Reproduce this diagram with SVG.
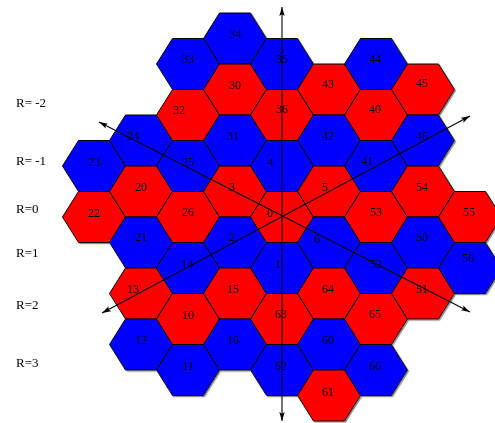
<svg xmlns="http://www.w3.org/2000/svg" xmlns:xlink="http://www.w3.org/1999/xlink" width="495" height="423" viewBox="0 0 495 423">
<style>
.hex{stroke:#000;stroke-width:1}
.r{fill:#FF0000}
.b{fill:#0000FF}
.lbl{font-family:"Liberation Serif","Times New Roman",serif;font-size:12px;fill:#000;text-anchor:middle}
.rl{font-family:"Liberation Serif","Times New Roman",serif;font-size:13px;fill:#000}
.axis{stroke:#000;stroke-width:1.1;fill:none;marker-start:url(#arr);marker-end:url(#arr)}
</style>
<defs>
<polygon id="hex" points="-31.5,0 -15.5,-25.5 15.5,-25.5 31.5,0 15.5,25.5 -15.5,25.5"/>
<marker id="arr" viewBox="0 0 10 6" refX="10" refY="3" markerWidth="9" markerHeight="6" markerUnits="userSpaceOnUse" orient="auto-start-reverse">
<path d="M0,0 L10,3 L0,6 L2,3 z" fill="#000"/>
</marker>
<filter id="sh" x="-5%" y="-5%" width="110%" height="110%">
<feDropShadow dx="1.2" dy="1.2" stdDeviation="0.5" flood-color="#808080" flood-opacity="0.9"/>
</filter>
</defs>
<rect width="495" height="423" fill="#fff"/>
<g id="nodes" filter="url(#sh)">
<!-- column -4 -->
<g id="n23" transform="translate(94,166)"><use xlink:href="#hex" href="#hex" class="hex b"/><text class="lbl" y="-0.5">23</text></g>
<g id="n22" transform="translate(94,217)"><use xlink:href="#hex" href="#hex" class="hex r"/><text class="lbl" y="-0.5">22</text></g>
<!-- column -3 -->
<g id="n24" transform="translate(141,140.5)"><use xlink:href="#hex" href="#hex" class="hex b"/><text class="lbl" x="-8" y="-0.5">24</text></g>
<g id="n20" transform="translate(141,191.5)"><use xlink:href="#hex" href="#hex" class="hex r"/><text class="lbl" y="-0.5">20</text></g>
<g id="n21" transform="translate(141,242.5)"><use xlink:href="#hex" href="#hex" class="hex b"/><text class="lbl" y="-1.5">21</text></g>
<g id="n13" transform="translate(141,293.5)"><use xlink:href="#hex" href="#hex" class="hex r"/><text class="lbl" x="-8" y="-1">13</text></g>
<g id="n12" transform="translate(141,344.5)"><use xlink:href="#hex" href="#hex" class="hex b"/><text class="lbl" y="-0.5">12</text></g>
<!-- column -2 -->
<g id="n33" transform="translate(188,64)"><use xlink:href="#hex" href="#hex" class="hex b"/><text class="lbl" y="-1">33</text></g>
<g id="n32" transform="translate(188,115)"><use xlink:href="#hex" href="#hex" class="hex r"/><text class="lbl" x="-9" y="-1">32</text></g>
<g id="n25" transform="translate(188,166)"><use xlink:href="#hex" href="#hex" class="hex b"/><text class="lbl" y="-0.5">25</text></g>
<g id="n26" transform="translate(188,217)"><use xlink:href="#hex" href="#hex" class="hex r"/><text class="lbl" y="-1">26</text></g>
<g id="n14" transform="translate(188,268)"><use xlink:href="#hex" href="#hex" class="hex b"/><text class="lbl" x="-1" y="-0.5">14</text></g>
<g id="n10" transform="translate(188,319)"><use xlink:href="#hex" href="#hex" class="hex r"/><text class="lbl" y="-0.5">10</text></g>
<g id="n11" transform="translate(188,370)"><use xlink:href="#hex" href="#hex" class="hex b"/><text class="lbl" y="-0.5">11</text></g>
<!-- column -1 -->
<g id="n34" transform="translate(235,38.5)"><use xlink:href="#hex" href="#hex" class="hex b"/><text class="lbl" y="-1">34</text></g>
<g id="n30" transform="translate(235,89.5)"><use xlink:href="#hex" href="#hex" class="hex r"/><text class="lbl" y="-1">30</text></g>
<g id="n31" transform="translate(235,140.5)"><use xlink:href="#hex" href="#hex" class="hex b"/><text class="lbl" x="-2" y="-0.5">31</text></g>
<g id="n3" transform="translate(235,191.5)"><use xlink:href="#hex" href="#hex" class="hex r"/><text class="lbl" x="-3" y="-0.5">3</text></g>
<g id="n2" transform="translate(235,242.5)"><use xlink:href="#hex" href="#hex" class="hex b"/><text class="lbl" x="-3" y="-1.5">2</text></g>
<g id="n15" transform="translate(235,293.5)"><use xlink:href="#hex" href="#hex" class="hex r"/><text class="lbl" x="-2" y="-0.5">15</text></g>
<g id="n16" transform="translate(235,344.5)"><use xlink:href="#hex" href="#hex" class="hex b"/><text class="lbl" x="-2" y="-0.5">16</text></g>
<!-- column 0 -->
<g id="n35" transform="translate(282,64)"><use xlink:href="#hex" href="#hex" class="hex b"/><text class="lbl" y="-1">35</text></g>
<g id="n36" transform="translate(282,115)"><use xlink:href="#hex" href="#hex" class="hex r"/><text class="lbl" y="-2.5">36</text></g>
<g id="n4" transform="translate(282,166)"><use xlink:href="#hex" href="#hex" class="hex b"/><text class="lbl" x="-12" y="-0.5">4</text></g>
<g id="n0" transform="translate(282,217)"><use xlink:href="#hex" href="#hex" class="hex r"/><text class="lbl" x="-12" y="0">0</text></g>
<g id="n1" transform="translate(282,268)"><use xlink:href="#hex" href="#hex" class="hex b"/><text class="lbl" x="-4" y="0">1</text></g>
<g id="n63" transform="translate(282,319)"><use xlink:href="#hex" href="#hex" class="hex r"/><text class="lbl" x="-1" y="-1">63</text></g>
<g id="n62" transform="translate(282,370)"><use xlink:href="#hex" href="#hex" class="hex b"/><text class="lbl" x="-1" y="-0.5">62</text></g>
<!-- column 1 -->
<g id="n43" transform="translate(329,89.5)"><use xlink:href="#hex" href="#hex" class="hex r"/><text class="lbl" x="-1" y="-1.5">43</text></g>
<g id="n42" transform="translate(329,140.5)"><use xlink:href="#hex" href="#hex" class="hex b"/><text class="lbl" x="-1" y="-0.5">42</text></g>
<g id="n5" transform="translate(329,191.5)"><use xlink:href="#hex" href="#hex" class="hex r"/><text class="lbl" x="-4" y="-0.5">5</text></g>
<g id="n6" transform="translate(329,242.5)"><use xlink:href="#hex" href="#hex" class="hex b"/><text class="lbl" x="-12" y="0">6</text></g>
<g id="n64" transform="translate(329,293.5)"><use xlink:href="#hex" href="#hex" class="hex r"/><text class="lbl" x="-1" y="-0.5">64</text></g>
<g id="n60" transform="translate(329,344.5)"><use xlink:href="#hex" href="#hex" class="hex b"/><text class="lbl" x="-1" y="-0.5">60</text></g>
<g id="n61" transform="translate(329,395.5)"><use xlink:href="#hex" href="#hex" class="hex r"/><text class="lbl" x="-1" y="0">61</text></g>
<!-- column 2 -->
<g id="n44" transform="translate(376,64)"><use xlink:href="#hex" href="#hex" class="hex b"/><text class="lbl" x="-1" y="-1">44</text></g>
<g id="n40" transform="translate(376,115)"><use xlink:href="#hex" href="#hex" class="hex r"/><text class="lbl" x="-1" y="-2">40</text></g>
<g id="n41" transform="translate(376,166)"><use xlink:href="#hex" href="#hex" class="hex b"/><text class="lbl" x="-9" y="-1">41</text></g>
<g id="n53" transform="translate(376,217)"><use xlink:href="#hex" href="#hex" class="hex r"/><text class="lbl" y="-1">53</text></g>
<g id="n52" transform="translate(376,268)"><use xlink:href="#hex" href="#hex" class="hex b"/><text class="lbl" y="-0.5">52</text></g>
<g id="n65" transform="translate(376,319)"><use xlink:href="#hex" href="#hex" class="hex r"/><text class="lbl" x="-1" y="-1">65</text></g>
<g id="n66" transform="translate(376,370)"><use xlink:href="#hex" href="#hex" class="hex b"/><text class="lbl" x="-1" y="-0.5">66</text></g>
<!-- column 3 -->
<g id="n45" transform="translate(423,89.5)"><use xlink:href="#hex" href="#hex" class="hex r"/><text class="lbl" x="-1" y="-2.5">45</text></g>
<g id="n46" transform="translate(423,140.5)"><use xlink:href="#hex" href="#hex" class="hex b"/><text class="lbl" x="-1" y="-0.5">46</text></g>
<g id="n54" transform="translate(423,191.5)"><use xlink:href="#hex" href="#hex" class="hex r"/><text class="lbl" x="-1" y="-0.5">54</text></g>
<g id="n50" transform="translate(423,242.5)"><use xlink:href="#hex" href="#hex" class="hex b"/><text class="lbl" x="-1" y="-1.5">50</text></g>
<g id="n51" transform="translate(423,293.5)"><use xlink:href="#hex" href="#hex" class="hex r"/><text class="lbl" x="-1" y="-0.5">51</text></g>
<!-- column 4 -->
<g id="n55" transform="translate(470,217)"><use xlink:href="#hex" href="#hex" class="hex r"/><text class="lbl" x="-1" y="-1">55</text></g>
<g id="n56" transform="translate(470,268)"><use xlink:href="#hex" href="#hex" class="hex b"/><text class="lbl" x="-2" y="-6">56</text></g>
</g>
<g id="connectors">
<line class="axis" x1="282" y1="421" x2="282" y2="7"/>
<line class="axis" x1="99" y1="122" x2="470" y2="312"/>
<line class="axis" x1="102" y1="313" x2="470" y2="116"/>
</g>
<g id="row-labels">
<text class="rl" x="16" y="107">R= -2</text>
<text class="rl" x="16" y="165">R= -1</text>
<text class="rl" x="16" y="212.5">R=0</text>
<text class="rl" x="16" y="257">R=1</text>
<text class="rl" x="16" y="309">R=2</text>
<text class="rl" x="16" y="367">R=3</text>
</g>
</svg>
